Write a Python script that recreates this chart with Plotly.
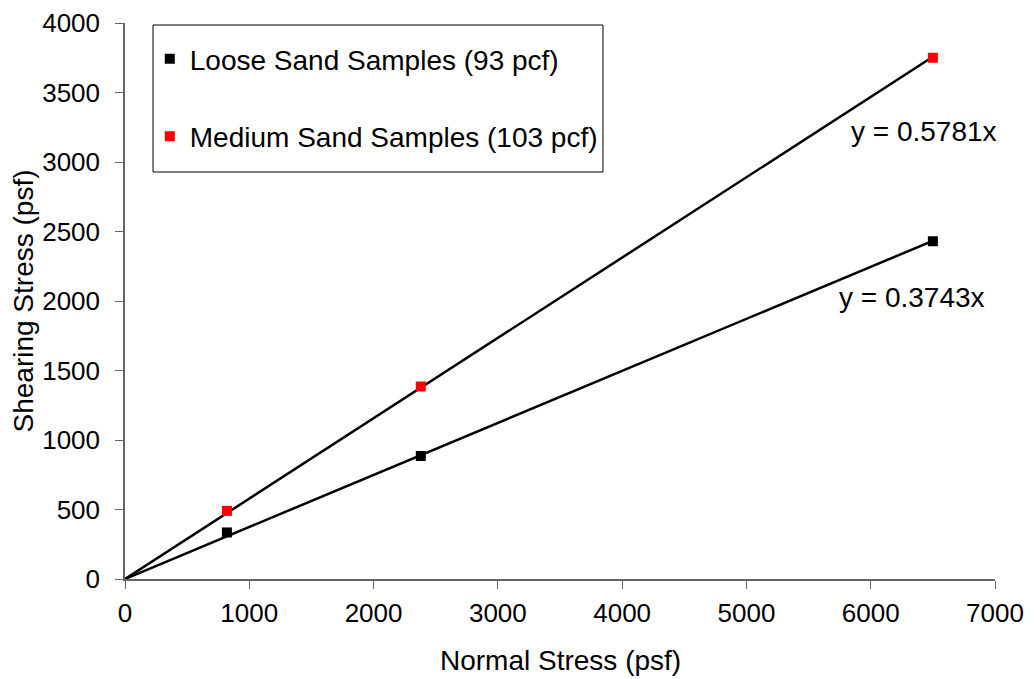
import plotly.graph_objects as go

normal_stress = [820, 2380, 6500]
loose_shear = [335, 885, 2430]
medium_shear = [490, 1385, 3750]
loose_slope = 0.3743
medium_slope = 0.5781
trend_x = [0, 6500]
x_ticks = [0, 1000, 2000, 3000, 4000, 5000, 6000, 7000]
y_ticks = [0, 500, 1000, 1500, 2000, 2500, 3000, 3500, 4000]

FONT = "Liberation Sans, Arial, sans-serif"

fig = go.Figure()
fig.add_trace(go.Scatter(x=trend_x, y=[loose_slope * v for v in trend_x], mode="lines",
                         line=dict(color="black", width=2.5), showlegend=False, hoverinfo="skip"))
fig.add_trace(go.Scatter(x=trend_x, y=[medium_slope * v for v in trend_x], mode="lines",
                         line=dict(color="black", width=2.5), showlegend=False, hoverinfo="skip"))
fig.add_trace(go.Scatter(x=normal_stress, y=loose_shear, mode="markers",
                         name="Loose Sand Samples (93 pcf)", legendgroup="a",
                         marker=dict(symbol="square", size=10, color="black")))
fig.add_trace(go.Scatter(x=normal_stress, y=medium_shear, mode="markers",
                         name="Medium Sand Samples (103 pcf)", legendgroup="b",
                         marker=dict(symbol="square", size=10, color="red")))

fig.add_annotation(x=6500, y=medium_slope * 6500, text="y = 0.5781x", showarrow=False,
                   xshift=-9, yshift=-75, font=dict(size=28, color="black", family=FONT))
fig.add_annotation(x=6500, y=loose_slope * 6500, text="y = 0.3743x", showarrow=False,
                   xshift=-21, yshift=-57, font=dict(size=28, color="black", family=FONT))

# x-axis title
fig.add_annotation(xref="paper", yref="paper", x=0.5, y=0, xanchor="center", yanchor="top",
                   yshift=-64, text="Normal Stress (psf)", showarrow=False,
                   font=dict(size=28, color="black", family=FONT))

# legend frame
fig.add_shape(type="rect", xref="paper", yref="paper",
              x0=0.0322, x1=0.5494, y0=0.732, y1=0.9964,
              line=dict(color="black", width=1), fillcolor="white", layer="below")

fig.update_layout(
    width=1026, height=671,
    margin=dict(l=117, r=39, t=15, b=100, pad=0),
    plot_bgcolor="white", paper_bgcolor="white",
    font=dict(family=FONT, size=26, color="black"),
    legend=dict(x=0.0285, y=0.980, xanchor="left", yanchor="top",
                borderwidth=0, bgcolor="rgba(0,0,0,0)",
                tracegroupgap=38, font=dict(size=28, family=FONT),
                itemwidth=30),
    xaxis=dict(range=[0, 7000], tickvals=x_ticks, showgrid=False, zeroline=False,
               showline=True, linecolor="#666", linewidth=1.5, ticks="outside",
               ticklen=8, tickcolor="#666", ticklabelstandoff=2, automargin=False,
               tickfont=dict(size=26)),
    yaxis=dict(range=[0, 4000], tickvals=y_ticks, showgrid=False, zeroline=False,
               showline=True, linecolor="#666", linewidth=1.5, ticks="outside",
               ticklen=8, tickcolor="#666", ticklabelstandoff=10, automargin=False,
               tickfont=dict(size=26),
               title=dict(text="Shearing Stress (psf)", font=dict(size=28))),
)

fig.write_html("out.html")
